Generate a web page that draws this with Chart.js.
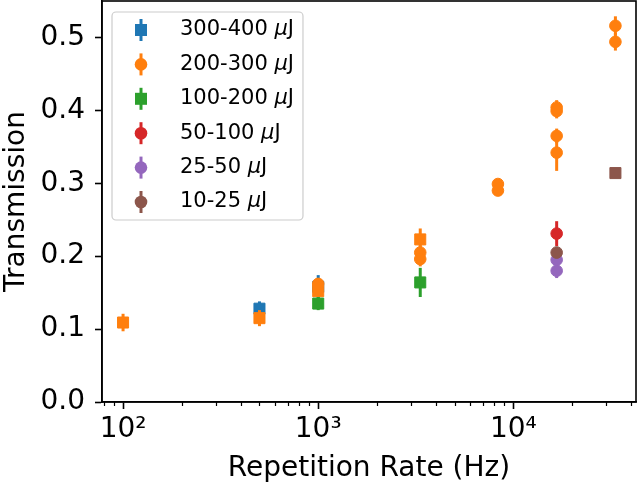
<!DOCTYPE html>
<html>
<head>
<meta charset="utf-8">
<script src="https://cdn.jsdelivr.net/npm/chart.js@4.4.1/dist/chart.umd.min.js"></script>
<style>
  html, body { margin: 0; padding: 0; background: #fff; }
  #wrap { width: 640px; height: 486px; }
</style>
</head>
<body>
<div id="wrap"><canvas id="grafico" width="640" height="486"></canvas></div>
<script>
//#region Dados
const faixas = ['300-400', '200-300', '100-200', '50-100', '25-50', '10-25'];
const cores = ['#1f77b4', '#ff7f0e', '#2ca02c', '#d62728', '#9467bd', '#8c564b'];
const formas = ['rect', 'circle', 'rect', 'circle', 'circle', 'circle'];

// 300-400 uJ (quadrados azuis)
const taxaAzul = [500, 1000];
const transAzul = [0.128, 0.158];
const erroAzul = [0.010, 0.016];

// 200-300 uJ (circulos laranja)
const taxaLaranja = [1000, 3333, 3333, 8333, 8333, 16667, 16667, 16667, 16667, 33333, 33333];
const transLaranja = [0.162, 0.205, 0.196, 0.299, 0.290, 0.404, 0.399, 0.365, 0.342, 0.516, 0.494];
const erroLaranja = [0.008, 0.010, 0.010, 0.005, 0.005, 0.010, 0.010, 0.010, 0.025, 0.013, 0.012];

// 200-300 uJ (quadrados laranja, sem legenda)
const taxaLaranjaQ = [100, 500, 1000, 3333];
const transLaranjaQ = [0.109, 0.115, 0.152, 0.223];
const erroLaranjaQ = [0.012, 0.011, 0.008, 0.015];

// 100-200 uJ
const taxaVerde = [1000, 3333];
const transVerde = [0.135, 0.164];
const erroVerde = [0.009, 0.020];

// 50-100 uJ
const taxaVermelho = [16667];
const transVermelho = [0.231];
const erroVermelho = [0.017];

// 25-50 uJ
const taxaRoxo = [16667, 16667];
const transRoxo = [0.195, 0.180];
const erroRoxo = [0.008, 0.010];

// 10-25 uJ
const taxaMarrom = [16667];
const transMarrom = [0.205];
const erroMarrom = [0.008];
const taxaMarromQ = [33333];
const transMarromQ = [0.314];
const erroMarromQ = [0];

const ticksY = [0, 0.1, 0.2, 0.3, 0.4, 0.5];
const ticksX = [100, 1000, 10000];
const rotulosX = ['10²', '10³', '10⁴'];
//#endregion

const FONTE = 'DejaVu Sans';

function serie(taxas, valores, erros, cor, forma) {
  return {
    data: taxas.map((t, i) => ({ x: t, y: valores[i] })),
    erros: erros,
    backgroundColor: cor,
    borderColor: cor,
    borderWidth: 1,
    pointStyle: forma,
    pointRadius: forma === 'rect' ? 7.8 : 5.8,
    pointHoverRadius: forma === 'rect' ? 7.8 : 5.8,
    showLine: false
  };
}

const datasets = [
  serie(taxaAzul, transAzul, erroAzul, cores[0], 'rect'),
  serie(taxaLaranjaQ, transLaranjaQ, erroLaranjaQ, cores[1], 'rect'),
  serie(taxaLaranja, transLaranja, erroLaranja, cores[1], 'circle'),
  serie(taxaVerde, transVerde, erroVerde, cores[2], 'rect'),
  serie(taxaVermelho, transVermelho, erroVermelho, cores[3], 'circle'),
  serie(taxaRoxo, transRoxo, erroRoxo, cores[4], 'circle'),
  serie(taxaMarrom, transMarrom, erroMarrom, cores[5], 'circle'),
  serie(taxaMarromQ, transMarromQ, erroMarromQ, cores[5], 'rect')
];
// primeira série fica embaixo, como no matplotlib
datasets.forEach((ds, i) => { ds.order = datasets.length - i; });

//#region Plugins: barras de erro, ticks menores, moldura e legenda
const barrasErro = {
  id: 'barrasErro',
  beforeDatasetDraw(chart, args) {
    const ds = chart.data.datasets[args.index];
    const y = chart.scales.y;
    const ctx = chart.ctx;
    ctx.save();
    ctx.strokeStyle = ds.backgroundColor;
    ctx.lineWidth = 3;
    args.meta.data.forEach((pt, i) => {
      const e = ds.erros[i];
      if (!e) return;
      const v = ds.data[i].y;
      ctx.beginPath();
      ctx.moveTo(pt.x, y.getPixelForValue(v + e));
      ctx.lineTo(pt.x, y.getPixelForValue(v - e));
      ctx.stroke();
    });
    ctx.restore();
  }
};

const ticksMenores = {
  id: 'ticksMenores',
  afterDraw(chart) {
    const x = chart.scales.x;
    const ctx = chart.ctx;
    const base = chart.chartArea.bottom;
    ctx.save();
    ctx.strokeStyle = '#000';
    ctx.lineWidth = 1.2;
    [10, 100, 1000, 10000].forEach(d => {
      for (let m = 2; m <= 9; m++) {
        const v = m * d;
        if (v < x.min || v > x.max) continue;
        const px = Math.round(x.getPixelForValue(v)) + 0.5;
        ctx.beginPath();
        ctx.moveTo(px, base);
        ctx.lineTo(px, base + 4);
        ctx.stroke();
      }
    });
    ctx.restore();
  }
};

const moldura = {
  id: 'moldura',
  afterDatasetsDraw(chart) {
    const a = chart.chartArea;
    const ctx = chart.ctx;
    ctx.save();
    ctx.strokeStyle = '#000';
    ctx.lineWidth = 1.6;
    ctx.strokeRect(a.left, a.top, a.right - a.left, a.bottom - a.top);
    ctx.restore();
  }
};

const legenda = {
  id: 'legenda',
  afterDraw(chart) {
    const ctx = chart.ctx;
    const fonteN = '21px "' + FONTE + '"';
    const fonteI = 'italic 21px "' + FONTE + '"';
    const xt0 = 180;

    // largura do texto mais comprido
    let maior = 0;
    faixas.forEach(f => {
      ctx.font = fonteN;
      let w = ctx.measureText(f + ' ').width + ctx.measureText('J').width;
      ctx.font = fonteI;
      w += ctx.measureText('μ').width;
      maior = Math.max(maior, w);
    });

    const esq = 112, topo = 12, dir = xt0 + maior + 9, baixo = 220;
    ctx.save();
    ctx.beginPath();
    ctx.roundRect(esq, topo, dir - esq, baixo - topo, 4);
    ctx.fillStyle = 'rgba(255,255,255,0.8)';
    ctx.fill();
    ctx.strokeStyle = '#cccccc';
    ctx.lineWidth = 1.2;
    ctx.stroke();

    faixas.forEach((f, i) => {
      const yy = 30 + i * 34.4;
      const xm = 141;
      ctx.strokeStyle = cores[i];
      ctx.lineWidth = 3;
      ctx.beginPath();
      ctx.moveTo(xm, yy - 11);
      ctx.lineTo(xm, yy + 11);
      ctx.stroke();
      ctx.fillStyle = cores[i];
      if (formas[i] === 'rect') {
        ctx.fillRect(xm - 6, yy - 6, 12, 12);
      } else {
        ctx.beginPath();
        ctx.arc(xm, yy, 6.3, 0, Math.PI * 2);
        ctx.fill();
      }
      // texto: "300-400 " normal, mu italico, J normal
      ctx.fillStyle = '#000';
      ctx.textBaseline = 'middle';
      let xt = xt0;
      ctx.font = fonteN;
      const t1 = f + ' ';
      ctx.fillText(t1, xt, yy);
      xt += ctx.measureText(t1).width;
      ctx.font = fonteI;
      ctx.fillText('μ', xt, yy);
      xt += ctx.measureText('μ').width;
      ctx.font = fonteN;
      ctx.fillText('J', xt, yy);
    });
    ctx.restore();
  }
};
//#endregion

const fonteEixo = { family: FONTE, size: 28 };

new Chart(document.getElementById('grafico').getContext('2d'), {
  type: 'scatter',
  data: { datasets: datasets },
  options: {
    responsive: false,
    animation: false,
    devicePixelRatio: 1,
    layout: { autoPadding: false, padding: { top: 1, right: 4, left: 0, bottom: 0 } },
    plugins: {
      legend: { display: false },
      tooltip: { enabled: false }
    },
    scales: {
      x: {
        type: 'logarithmic',
        min: 78,
        max: 42500,
        afterBuildTicks: ax => { ax.ticks = ticksX.map(v => ({ value: v })); },
        afterFit: ax => {
          ax.height = 84;
          ax.paddingLeft = 0;
          ax.paddingRight = 0;
        },
        ticks: {
          font: fonteEixo,
          color: '#000',
          padding: 4,
          maxRotation: 0,
          autoSkip: false,
          callback: (v, i) => rotulosX[i]
        },
        grid: { drawOnChartArea: false, tickLength: 7, tickColor: '#000', tickWidth: 1.6 },
        border: { color: '#000', width: 1.6 },
        title: { display: true, text: 'Repetition Rate (Hz)', font: fonteEixo, color: '#000', padding: { top: 2, bottom: 0 } }
      },
      y: {
        min: 0,
        max: 0.55,
        afterBuildTicks: ax => { ax.ticks = ticksY.map(v => ({ value: v })); },
        afterFit: ax => {
          ax.width = 102;
          ax.paddingTop = 0;
          ax.paddingBottom = 0;
        },
        ticks: {
          font: fonteEixo,
          color: '#000',
          padding: 10,
          callback: v => v.toFixed(1)
        },
        grid: { drawOnChartArea: false, tickLength: 7, tickColor: '#000', tickWidth: 1.6 },
        border: { color: '#000', width: 1.6 },
        title: { display: true, text: 'Transmission', font: fonteEixo, color: '#000', padding: 0 }
      }
    }
  },
  plugins: [barrasErro, moldura, ticksMenores, legenda]
});
</script>
</body>
</html>
